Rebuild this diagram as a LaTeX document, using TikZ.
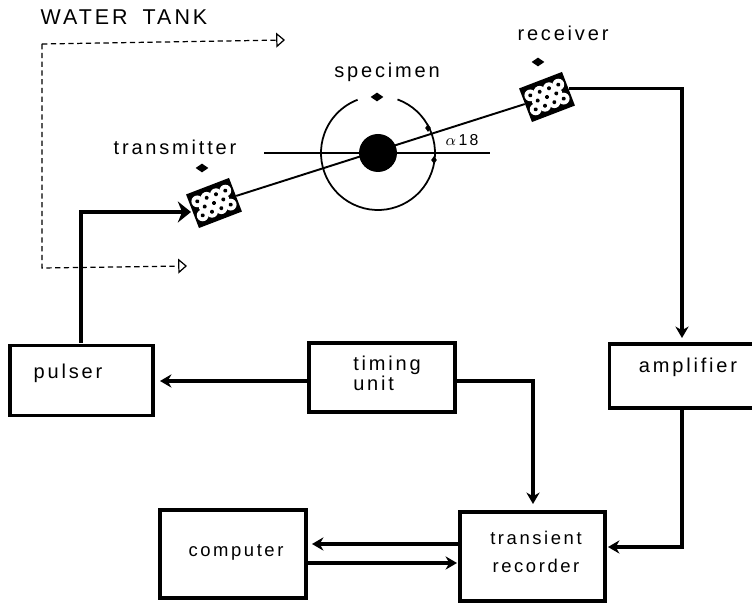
\documentclass[tikz,border=0pt]{standalone}
\usepackage{amsmath}
\usepackage{fontspec}
\setmainfont[LetterSpace=14]{Liberation Sans}
\usetikzlibrary{arrows.meta, positioning, calc, shapes.geometric}

\tikzset{
	unitbox/.style={draw, rectangle, line width=2.2pt, fill=white},
	probe/.style={rectangle, fill=black, rotate=21, minimum width=0.92cm, minimum height=0.72cm, inner sep=0pt},
	wire/.style={->, line width=2pt},
	tank/.style={->, densely dashed, line width=0.7pt, >={Triangle[open, length=5pt, width=8.5pt]}},
	tick/.style={fill, diamond, inner sep=0pt, minimum width=0.26cm, minimum height=0.18cm},
	smalltick/.style={tick, minimum width=0.12cm, minimum height=0.16cm},
	plain/.style={font=\fontsize{10.5pt}{13pt}\selectfont}
}

\begin{document}
\begin{tikzpicture}[>={Stealth[length=6.5pt, width=7.5pt]}, x=0.02cm, y=-0.02cm, font=\fontsize{11.4pt}{13pt}\selectfont]
	\useasboundingbox (0, 0) rectangle (752, 607);

	% blocks
	\node[unitbox, minimum width=2.86cm, minimum height=1.4cm] (pulser) at (81.5, 380.5) {};
	\node[unitbox, minimum width=2.92cm, minimum height=1.38cm] (timing) at (382, 377.5) {};
	\node[unitbox, minimum width=3.1cm, minimum height=1.28cm] (amp) at (687, 376) {};
	\node[unitbox, minimum width=2.92cm, minimum height=1.76cm] (computer) at (233, 554) {};
	\node[unitbox, minimum width=2.9cm, minimum height=1.78cm] (recorder) at (532.5, 556.5) {};

	\node (pulsertext) at (68, 373) {pulser};
	\node[align=left] (timingtext) at (387, 373) {timing\\[-1.7pt]unit};
	\node (amptext) at (688, 367) {amplifier};
	\node[plain] (computertext) at (236, 552) {computer};
	\node[plain, align=center] (recordertext) at (536, 552) {transient\\[3pt]recorder};

	% probes
	\node[probe] (tx) at (214, 203) {};
	\node[probe] (rx) at (547, 97) {};
	\foreach \p in {tx, rx} {
		\begin{scope}[shift={(\p)}, rotate=21]
			\foreach \u/\v in {-15/-7.5, -5/-7.5, 5/-7.5, 15/-7.5, -10/0, 0/0, 10/0, -15/7.5, -5/7.5, 5/7.5, 15/7.5} {
				\fill[white] (\u, \v) circle (5.9);
			}
			\foreach \u/\v in {-15/-7.5, -5/-7.5, 5/-7.5, 15/-7.5, -10/0, 0/0, 10/0, -15/7.5, -5/7.5, 5/7.5, 15/7.5} {
				\fill[black] (\u, \v) circle (2);
			}
		\end{scope}
	}

	% specimen
	\coordinate (axisl) at (264, 153);
	\coordinate (axisr) at (490, 153);
	\draw[line width=1.1pt] (axisl) -- (axisr);
	\draw[line width=1.1pt] (tx) -- (rx);
	\node[circle, fill, inner sep=0pt, minimum size=0.76cm] (disc) at (378, 153) {};
	\draw[line width=1pt] ($(disc)+(-70:57)$) arc (-70:249:57);
	\node[smalltick] (tick1) at (428, 128) {};
	\node[smalltick] (tick2) at (434, 160) {};

	% labels
	\node (tanklabel) at (124, 17) {\fontsize{12.2pt}{13pt}\selectfont WATER\hspace{0.7em}TANK};
	\node (txlabel) at (175, 147) {transmitter};
	\node (speclabel) at (387, 72) {specimen};
	\node (rxlabel) at (563, 33) {receiver};
	\node (anglelabel) at (462, 140) {\fontsize{9pt}{10pt}\selectfont$\alpha$\,18};
	\node[tick] (txtick) at (202, 168) {};
	\node[tick] (spectick) at (377, 97) {};
	\node[tick] (rxtick) at (538, 62) {};

	% water tank outline
	\coordinate (tankcorner) at (42, 44);
	\coordinate (tanklow) at (42, 268);
	\coordinate (tankend1) at (285, 40);
	\coordinate (tankend2) at (187, 266);
	\draw[tank] (tankcorner) -- (tankend1);
	\draw[tank] (tankcorner) -- (tanklow) -- (tankend2);

	% connections
	\coordinate (pulserup) at (81, 343);
	\coordinate (txin) at (191, 212);
	\coordinate (ampin) at (682, 338);
	\coordinate (ampout) at (682, 410);
	\coordinate (timingl) at (309, 381);
	\coordinate (pulserr) at (160, 381);
	\coordinate (timingr) at (455, 381);
	\coordinate (recin) at (533, 504);
	\coordinate (recl1) at (460, 544);
	\coordinate (recl2) at (457, 563);
	\coordinate (recr) at (608, 547);
	\coordinate (compr1) at (312, 544);
	\coordinate (compr2) at (307, 563);
	\draw[->, line width=2.6pt, >={Stealth[length=7.5pt, width=12pt]}] (pulserup) |- (txin);
	\draw[wire] (rx.east) -| (ampin);
	\draw[wire] (timingl) -- (pulserr);
	\draw[wire] (timingr) -| (recin);
	\draw[wire] (ampout) |- (recr);
	\draw[wire] (recl1) -- (compr1);
	\draw[wire] (compr2) -- (recl2);
\end{tikzpicture}
\end{document}
